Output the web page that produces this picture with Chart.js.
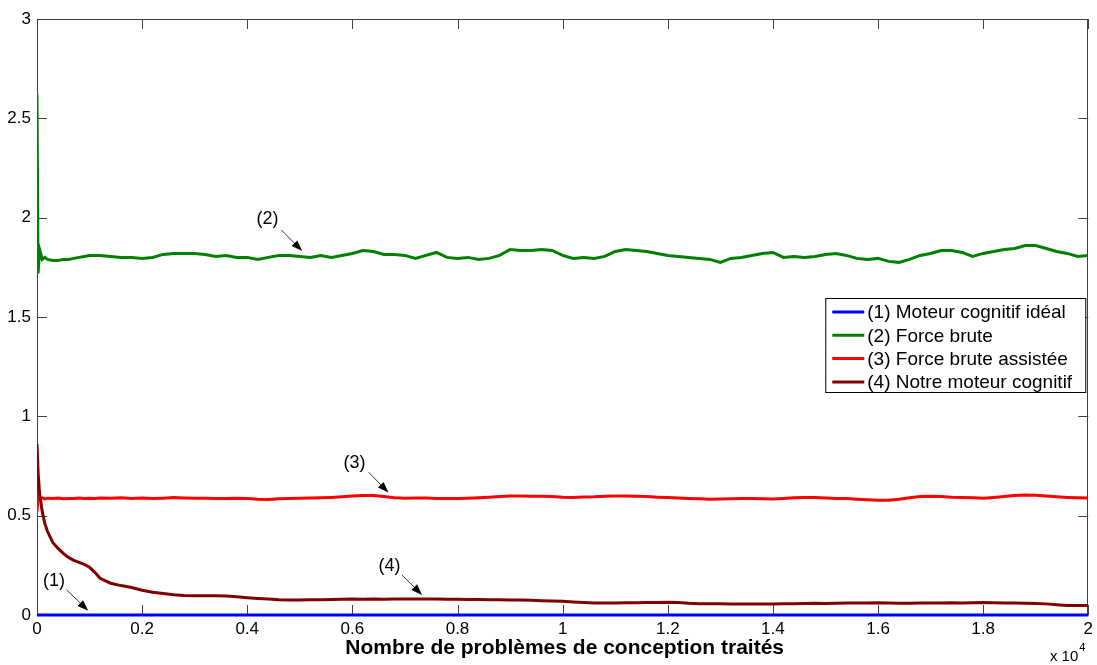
<!DOCTYPE html>
<html>
<head>
<meta charset="utf-8">
<script src="https://cdn.jsdelivr.net/npm/chart.js@4/dist/chart.umd.min.js"></script>
<style>
  html, body { margin: 0; padding: 0; background: #fff; }
  #wrap { width: 1097px; height: 665px; position: relative; }
</style>
</head>
<body>
<div id="wrap"><canvas id="lineChart"></canvas></div>
<script>
// x positions (number of problems processed)
const xValues = [0, 20, 50, 100, 150, 200, 300, 400, 500, 600, 700, 800, 900, 1000, 1100, 1200,
    1400, 1600, 1800, 2000, 2200, 2400, 2600, 2800, 3000, 3200, 3400, 3600, 3800, 4000, 4200, 4400,
    4600, 4800, 5000, 5200, 5400, 5600, 5800, 6000, 6200, 6400, 6600, 6800,
    7000, 7200, 7400, 7600, 7800, 8000, 8200, 8400, 8600, 8800, 9000, 9200, 9400, 9600, 9800,
    10000, 10200, 10400, 10600, 10800, 11000, 11200, 11400, 11600, 11800, 12000, 12200, 12400,
    12600, 12800, 13000, 13200, 13400, 13600,
    13800, 14000, 14200, 14400, 14600, 14800, 15000, 15200, 15400, 15600, 15800, 16000, 16200,
    16400, 16600, 16800, 17000, 17200, 17400, 17600, 17800, 18000, 18200, 18400, 18600, 18800,
    19000, 19200, 19400, 19600, 19800, 20000];

// (1) Moteur cognitif idéal
const idealX = [0, 20000];
const idealValues = [0, 0];

// (2) Force brute
const forceBrute = [2.62, 1.72, 1.84, 1.79, 1.80, 1.79, 1.785, 1.785, 1.79, 1.79, 1.795, 1.80, 1.805, 1.81, 1.81, 1.81,
    1.805, 1.80, 1.80, 1.795, 1.80, 1.815, 1.82, 1.82, 1.82, 1.815, 1.805, 1.81, 1.80, 1.80, 1.79, 1.80,
    1.81, 1.81, 1.805, 1.80, 1.81, 1.80, 1.81, 1.82, 1.835, 1.83, 1.815, 1.815,
    1.81, 1.795, 1.81, 1.825, 1.80, 1.795, 1.80, 1.79, 1.795, 1.81, 1.84, 1.835, 1.835, 1.84, 1.835,
    1.81, 1.795, 1.80, 1.795, 1.805, 1.83, 1.84, 1.835, 1.83, 1.82, 1.81, 1.805, 1.80,
    1.795, 1.79, 1.775, 1.795, 1.80, 1.81,
    1.82, 1.825, 1.80, 1.805, 1.80, 1.805, 1.815, 1.82, 1.81, 1.795, 1.79, 1.795, 1.78,
    1.775, 1.79, 1.81, 1.82, 1.835, 1.835, 1.825, 1.805, 1.82, 1.83, 1.84, 1.845, 1.86,
    1.86, 1.845, 1.83, 1.82, 1.805, 1.81];

// (3) Force brute assistée
const forceBruteAssistee = [0.52, 0.60, 0.585, 0.59, 0.584, 0.588, 0.586, 0.589, 0.585, 0.587, 0.586, 0.589, 0.587, 0.588, 0.586, 0.589,
    0.588, 0.59, 0.587, 0.589, 0.586, 0.588, 0.591, 0.589, 0.588, 0.588, 0.586, 0.587, 0.588, 0.586, 0.583, 0.582,
    0.585, 0.587, 0.588, 0.589, 0.59, 0.592, 0.595, 0.599, 0.602, 0.601, 0.597, 0.59,
    0.588, 0.589, 0.589, 0.587, 0.586, 0.587, 0.588, 0.59, 0.593, 0.597, 0.599, 0.599, 0.598, 0.598, 0.596,
    0.593, 0.592, 0.594, 0.595, 0.598, 0.599, 0.599, 0.598, 0.596, 0.593, 0.591, 0.589, 0.587,
    0.585, 0.583, 0.584, 0.585, 0.586, 0.586,
    0.585, 0.584, 0.587, 0.59, 0.592, 0.591, 0.589, 0.587, 0.586, 0.583, 0.58, 0.578, 0.578,
    0.583, 0.59, 0.596, 0.598, 0.596, 0.593, 0.592, 0.59, 0.588, 0.592, 0.597, 0.601, 0.604,
    0.603, 0.599, 0.595, 0.592, 0.59, 0.589];

// (4) Notre moteur cognitif
const notreMoteur = [0.86, 0.72, 0.61, 0.52, 0.46, 0.42, 0.365, 0.335, 0.31, 0.29, 0.275, 0.265, 0.255, 0.24, 0.215, 0.185,
    0.16, 0.148, 0.138, 0.125, 0.115, 0.108, 0.102, 0.098, 0.097, 0.097, 0.097, 0.096, 0.092, 0.087, 0.083, 0.08,
    0.077, 0.076, 0.076, 0.077, 0.077, 0.078, 0.079, 0.08, 0.079, 0.08, 0.079, 0.08,
    0.08, 0.081, 0.08, 0.081, 0.079, 0.079, 0.078, 0.078, 0.077, 0.077, 0.076, 0.075, 0.074, 0.072, 0.071,
    0.069, 0.066, 0.063, 0.061, 0.06, 0.061, 0.062, 0.062, 0.063, 0.063, 0.064, 0.063, 0.059,
    0.057, 0.056, 0.056, 0.055, 0.055, 0.055,
    0.055, 0.055, 0.056, 0.057, 0.058, 0.059, 0.058, 0.059, 0.06, 0.061, 0.061, 0.062, 0.06,
    0.059, 0.059, 0.06, 0.06, 0.061, 0.062, 0.061, 0.062, 0.063, 0.062, 0.061, 0.06, 0.059,
    0.058, 0.056, 0.052, 0.048, 0.048, 0.048];

const seriesNames = ["(1) Moteur cognitif idéal", "(2) Force brute", "(3) Force brute assistée", "(4) Notre moteur cognitif"];
const seriesColors = ["#0000ff", "#008000", "#ff0000", "#800000"];

const xTickLabels = ["0", "0.2", "0.4", "0.6", "0.8", "1", "1.2", "1.4", "1.6", "1.8", "2"];
const yTickLabels = ["0", "0.5", "1", "1.5", "2", "2.5", "3"];

// text callouts: label position and arrow, in data units
const callouts = [
    { text: "(1)", tx: 323, ty: 0.171, x0: 564, y0: 0.126, x1: 975, y1: 0.022 },
    { text: "(2)", tx: 4387, ty: 1.993, x0: 4648, y0: 1.938, x1: 5046, y1: 1.832 },
    { text: "(3)", tx: 6040, ty: 0.763, x0: 6312, y0: 0.718, x1: 6686, y1: 0.616 },
    { text: "(4)", tx: 6705, ty: 0.247, x0: 6946, y0: 0.201, x1: 7326, y1: 0.101 }
];

const FONT = "'Liberation Sans', Arial, sans-serif";

function toPoints(xs, ys) {
    return ys.map((v, i) => ({ x: xs[i], y: v }));
}

const overlay = {
    id: "overlay",
    beforeDatasetsDraw(chart) {
        const { ctx, chartArea: a, scales: { x, y } } = chart;
        ctx.save();
        ctx.strokeStyle = "#404040";
        ctx.lineWidth = 1;
        ctx.strokeRect(Math.round(a.left) + 0.5, Math.round(a.top) + 0.5,
            Math.round(a.width) - 1, Math.round(a.height) - 1);

        // inward ticks on all four sides
        ctx.beginPath();
        x.ticks.forEach(t => {
            const px = Math.round(x.getPixelForValue(t.value)) + 0.5;
            ctx.moveTo(px, a.bottom); ctx.lineTo(px, a.bottom - 10);
            ctx.moveTo(px, a.top); ctx.lineTo(px, a.top + 10);
        });
        y.ticks.forEach(t => {
            const py = Math.round(y.getPixelForValue(t.value)) + 0.5;
            ctx.moveTo(a.left, py); ctx.lineTo(a.left + 10, py);
            ctx.moveTo(a.right, py); ctx.lineTo(a.right - 10, py);
        });
        ctx.stroke();
        ctx.restore();
    },
    afterDraw(chart) {
        const { ctx, chartArea: a, scales: { x, y } } = chart;
        ctx.save();

        // callouts with arrows
        ctx.font = "18px " + FONT;
        ctx.fillStyle = "#000";
        ctx.textAlign = "center";
        ctx.textBaseline = "middle";
        callouts.forEach(c => {
            ctx.fillText(c.text, x.getPixelForValue(c.tx), y.getPixelForValue(c.ty));
            const x0 = x.getPixelForValue(c.x0), y0 = y.getPixelForValue(c.y0);
            const x1 = x.getPixelForValue(c.x1), y1 = y.getPixelForValue(c.y1);
            const ang = Math.atan2(y1 - y0, x1 - x0);
            ctx.strokeStyle = "#333";
            ctx.lineWidth = 1;
            ctx.beginPath();
            ctx.moveTo(x0, y0);
            ctx.lineTo(x1 - 8 * Math.cos(ang), y1 - 8 * Math.sin(ang));
            ctx.stroke();
            ctx.beginPath();
            ctx.moveTo(x1, y1);
            ctx.lineTo(x1 - 11 * Math.cos(ang) + 4 * Math.sin(ang), y1 - 11 * Math.sin(ang) - 4 * Math.cos(ang));
            ctx.lineTo(x1 - 11 * Math.cos(ang) - 4 * Math.sin(ang), y1 - 11 * Math.sin(ang) + 4 * Math.cos(ang));
            ctx.closePath();
            ctx.fill();
        });

        // legend box
        const lx = a.right - 263, ly = 298, lw = 260, lh = 94;
        ctx.fillStyle = "#fff";
        ctx.fillRect(lx, ly, lw, lh);
        ctx.strokeStyle = "#000";
        ctx.lineWidth = 1;
        ctx.strokeRect(lx + 0.5, ly + 0.5, lw, lh);
        ctx.font = "19px " + FONT;
        ctx.textAlign = "left";
        ctx.textBaseline = "middle";
        seriesNames.forEach((name, i) => {
            const ry = ly + 14 + i * 23.3;
            ctx.strokeStyle = seriesColors[i];
            ctx.lineWidth = 3;
            ctx.beginPath();
            ctx.moveTo(lx + 7, ry); ctx.lineTo(lx + 39, ry);
            ctx.stroke();
            ctx.fillStyle = "#000";
            ctx.fillText(name, lx + 42, ry + 1);
        });

        // x axis title
        ctx.font = "bold 21px " + FONT;
        ctx.textAlign = "center";
        ctx.textBaseline = "middle";
        ctx.fillText("Nombre de problèmes de conception traités", (a.left + a.right) / 2 + 2, 648);

        // exponent
        ctx.font = "15px " + FONT;
        ctx.textAlign = "right";
        ctx.textBaseline = "alphabetic";
        ctx.fillText("x 10", a.right - 10, 661);
        ctx.font = "11px " + FONT;
        ctx.textAlign = "left";
        ctx.fillText("4", a.right - 9, 651);
        ctx.restore();
    }
};

const ctx = document.getElementById("lineChart").getContext("2d");
const datasets = [
    { label: seriesNames[0], data: toPoints(idealX, idealValues), borderColor: seriesColors[0], order: 4, clip: 4 },
    { label: seriesNames[1], data: toPoints(xValues, forceBrute), borderColor: seriesColors[1], order: 3 },
    { label: seriesNames[2], data: toPoints(xValues, forceBruteAssistee), borderColor: seriesColors[2], order: 2 },
    { label: seriesNames[3], data: toPoints(xValues, notreMoteur), borderColor: seriesColors[3], order: 1 }
].map(d => Object.assign(d, { borderWidth: 3, pointRadius: 0, fill: false, tension: 0 }));

new Chart(ctx, {
    type: "line",
    data: { datasets: datasets },
    options: {
        responsive: true,
        maintainAspectRatio: false,
        animation: false,
        layout: { padding: { top: 19, right: 8, left: 0, bottom: 0 } },
        plugins: { legend: { display: false }, tooltip: { enabled: false } },
        scales: {
            x: {
                type: "linear",
                min: 0,
                max: 20000,
                grid: { display: false, drawTicks: false },
                border: { display: false },
                ticks: {
                    stepSize: 2000,
                    maxRotation: 0,
                    padding: 4,
                    color: "#000",
                    font: { family: FONT, size: 17 },
                    callback: (v, i) => xTickLabels[i]
                },
                afterFit: s => { s.height = 50; }
            },
            y: {
                type: "linear",
                min: 0,
                max: 3,
                grid: { display: false, drawTicks: false },
                border: { display: false },
                ticks: {
                    stepSize: 0.5,
                    padding: 6,
                    color: "#000",
                    font: { family: FONT, size: 17 },
                    callback: (v, i) => yTickLabels[i]
                },
                afterFit: s => { s.width = 37; }
            }
        }
    },
    plugins: [overlay]
});
</script>
</body>
</html>
